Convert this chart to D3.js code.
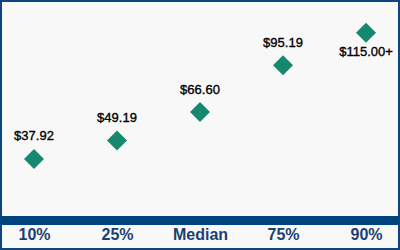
<!DOCTYPE html>
<html><head><meta charset="utf-8">
<script src="https://cdn.jsdelivr.net/npm/d3@7"></script>
<style>html,body{margin:0;padding:0;background:#fff;}svg{display:block;}</style>
</head><body>
<script>
const categories = ["10%", "25%", "Median", "75%", "90%"];
const values = [37.92, 49.19, 66.60, 95.19, 115.00];
const valueLabels = ["$37.92", "$49.19", "$66.60", "$95.19", "$115.00+"];

const W = 400, H = 250;
const svg = d3.select("body").append("svg").attr("width", W).attr("height", H);

svg.append("rect").attr("x", 1).attr("y", 1).attr("width", W - 2).attr("height", H - 2)
  .attr("fill", "#f8f8f8").attr("stroke", "#0b4582").attr("stroke-width", 2);

const x = d3.scalePoint().domain(categories).range([34, 366]);
const y = d3.scaleLinear().domain([0, 135]).range([221, 0]);

// band axis
svg.append("rect").attr("x", 0).attr("y", 216).attr("width", W).attr("height", 9).attr("fill", "#00447f");

const axis = d3.axisBottom(x).tickSize(0).tickPadding(0);
const gA = svg.append("g").attr("transform", "translate(0,229)").call(axis);
gA.select(".domain").remove();
gA.selectAll("text").attr("font-family", "Liberation Sans, Arial, sans-serif")
  .attr("font-size", 16).attr("font-weight", "bold").attr("fill", "#1c3f73").attr("dy", "0.71em");

const data = categories.map((c, i) => ({c, v: values[i], l: valueLabels[i], i}));
const s = 10;
svg.selectAll("path.pt").data(data).enter().append("path").attr("class", "pt")
  .attr("d", d => `M${x(d.c)},${y(d.v) - s}L${x(d.c) + s},${y(d.v)}L${x(d.c)},${y(d.v) + s}L${x(d.c) - s},${y(d.v)}Z`)
  .attr("fill", "#168870");

svg.selectAll("text.lbl").data(data).enter().append("text").attr("class", "lbl")
  .attr("x", d => x(d.c))
  .attr("y", d => d.i === data.length - 1 ? y(d.v) + 19 : y(d.v) - 23)
  .attr("dy", "0.35em")
  .attr("text-anchor", "middle")
  .attr("font-family", "Liberation Sans, Arial, sans-serif").attr("font-size", 13)
  .attr("fill", "#000").attr("stroke", "#000").attr("stroke-width", 0.35)
  .text(d => d.l);
</script>
</body></html>
